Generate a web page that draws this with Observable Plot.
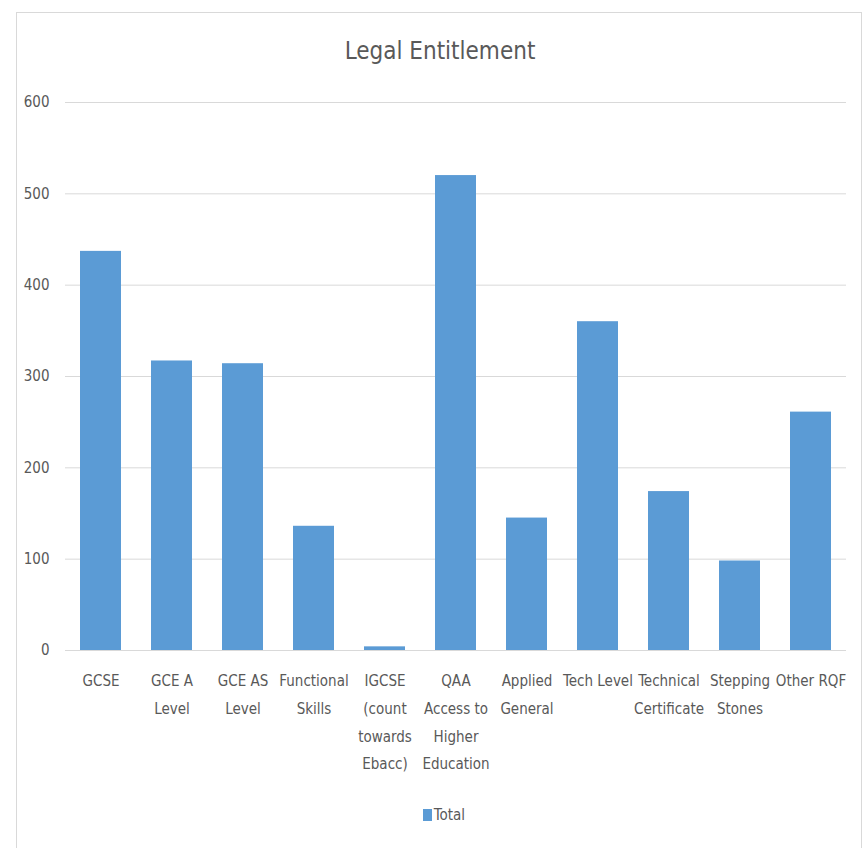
<!DOCTYPE html>
<html>
<head>
<meta charset="utf-8">
<script src="https://cdn.jsdelivr.net/npm/d3@7"></script>
<script src="https://cdn.jsdelivr.net/npm/@observablehq/plot@0.6"></script>
<style>
  html, body { margin: 0; padding: 0; background: #fff; }
  body { width: 868px; height: 848px; position: relative; overflow: hidden;
         font-family: "DejaVu Sans Condensed", "DejaVu Sans", sans-serif; font-stretch: condensed; color: #595959; }
  #frame { position: absolute; left: 16px; top: 12px; width: 846px; height: 850px;
           border: 1px solid #d9d9d9; box-sizing: border-box; }
  #title { position: absolute; left: 0; width: 880px; top: 31px; text-align: center;
           font-size: 24px; line-height: 40px; color: #595959; }
  #chart { position: absolute; left: 0; top: 80px; }
  #chart svg text { font-stretch: condensed; }
  #legend { position: absolute; left: 0; width: 888px; top: 804px; text-align: center;
            font-size: 15px; line-height: 22px; color: #595959; }
  #legend .sw { display: inline-block; width: 9px; height: 12px; background: #5B9BD5;
                vertical-align: -1px; margin-right: 2px; }
</style>
</head>
<body>
<div id="frame"></div>
<div id="title">Legal Entitlement</div>
<div id="chart"></div>
<div id="legend"><span class="sw"></span>Total</div>
<script>
const categories = [
  "GCSE", "GCE A Level", "GCE AS Level", "Functional Skills",
  "IGCSE (count towards Ebacc)", "QAA Access to Higher Education",
  "Applied General", "Tech Level", "Technical Certificate",
  "Stepping Stones", "Other RQF"
];
const tickLabels = [
  "GCSE", "GCE A\nLevel", "GCE AS\nLevel", "Functional\nSkills",
  "IGCSE\n(count\ntowards\nEbacc)", "QAA\nAccess to\nHigher\nEducation",
  "Applied\nGeneral", "Tech Level", "Technical\nCertificate",
  "Stepping\nStones", "Other RQF"
];
const totals = [437, 317, 314, 136, 4, 520, 145, 360, 174, 98, 261];
const yTicks = [0, 100, 200, 300, 400, 500, 600];

const data = categories.map((c, i) => ({ category: c, total: totals[i] }));
const labelOf = new Map(categories.map((c, i) => [c, tickLabels[i]]));

const chart = Plot.plot({
  width: 868,
  height: 720,
  marginLeft: 65,
  marginRight: 22,
  marginTop: 22,
  marginBottom: 150,
  style: { fontFamily: '"DejaVu Sans Condensed", "DejaVu Sans", sans-serif', fontSize: "15px", color: "#595959", background: "transparent" },
  x: { domain: categories, paddingInner: 0.42, paddingOuter: 0.21, align: 0.5 },
  y: { domain: [0, 600] },
  marks: [
    Plot.gridY(yTicks, { stroke: "#d9d9d9", strokeOpacity: 1, strokeWidth: 1 }),
    Plot.barY(data, { x: "category", y: "total", fill: "#5B9BD5" }),
    Plot.ruleY([0], { stroke: "#d9d9d9", strokeWidth: 1 }),
    Plot.axisY({ ticks: yTicks, tickSize: 0, tickPadding: 16, label: null, fill: "#595959", fontSize: 15 }),
    Plot.axisX({ tickSize: 0, tickPadding: 16, label: null, fill: "#595959", fontSize: 15,
                 lineHeight: 1.85, tickFormat: d => labelOf.get(d) })
  ]
});
document.getElementById("chart").appendChild(chart);
</script>
</body>
</html>
